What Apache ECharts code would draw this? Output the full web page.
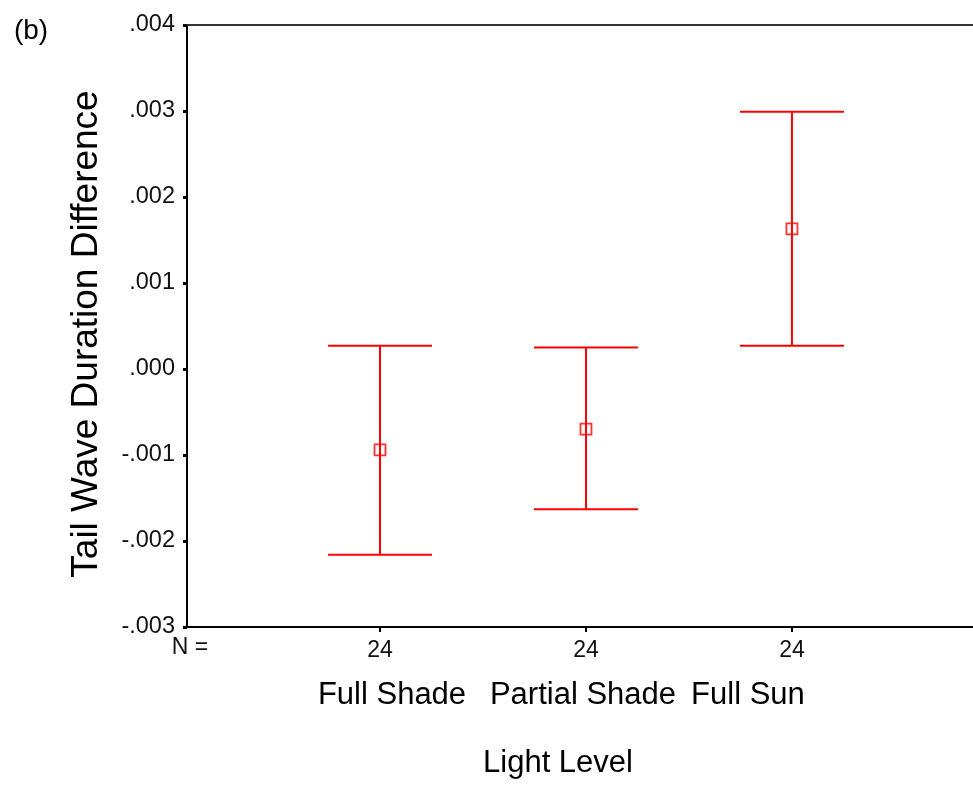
<!DOCTYPE html>
<html>
<head>
<meta charset="utf-8">
<script src="https://cdn.jsdelivr.net/npm/echarts@6/dist/echarts.min.js"></script>
<style>
html,body{margin:0;padding:0;background:#fff;}
#chart{width:973px;height:789px;}
</style>
</head>
<body>
<div id="chart"></div>
<script>
// ---- data ----
const categories = ['Full Shade', 'Partial Shade', 'Full Sun'];
const nValues = [24, 24, 24];
const means = [-0.00094, -0.00070, 0.00163];
const lowers = [-0.00216, -0.00163, 0.00027];
const uppers = [0.00027, 0.00025, 0.00299];
const yTicks = [-0.003, -0.002, -0.001, 0.000, 0.001, 0.002, 0.003, 0.004];

const FONT = '"Liberation Sans", Arial, sans-serif';
const RED = '#ff0000';
const positions = categories.map((c, i) => i + 1);

function fmtY(v) {
  const r = Math.round(v * 1000) / 1000;
  let s = Math.abs(r).toFixed(3).replace(/^0/, '');
  return (r < 0 ? '-' : '') + s;
}

const chart = echarts.init(document.getElementById('chart'), null, {renderer: 'canvas'});

const xMin = 0.063, xMax = 3.879;

const option = {
  animation: false,
  backgroundColor: '#fff',
  grid: {left: 187, top: 25, right: 0, bottom: 162},
  xAxis: [
    {
      type: 'value', position: 'bottom', min: xMin, max: xMax,
      splitLine: {show: false},
      axisLine: {show: true, onZero: false, lineStyle: {color: '#000', width: 2}},
      axisTick: {show: true, customValues: positions, length: 5, lineStyle: {color: '#000', width: 2}},
      axisLabel: {
        show: true, customValues: positions, margin: 12,
        fontFamily: FONT, fontSize: 23, color: '#111',
        formatter: function (v) { const i = Math.round(v) - 1; return String(nValues[i]); }
      }
    },
    {
      type: 'value', position: 'top', min: xMin, max: xMax,
      splitLine: {show: false},
      axisLine: {show: true, onZero: false, lineStyle: {color: '#333', width: 2}},
      axisTick: {show: false}, axisLabel: {show: false}
    }
  ],
  yAxis: {
    type: 'value', min: yTicks[0], max: yTicks[yTicks.length - 1], interval: 0.001,
    splitLine: {show: false},
    axisLine: {show: true, onZero: false, lineStyle: {color: '#000', width: 2}},
    axisTick: {show: true, length: 4, lineStyle: {color: '#000', width: 3}},
    axisLabel: {
      margin: 12, fontFamily: FONT, fontSize: 23.5, color: '#111',
      formatter: fmtY
    }
  },
  series: [
    {
      type: 'custom',
      xAxisIndex: 0,
      data: positions.map((p, i) => [p, lowers[i], uppers[i]]),
      renderItem: function (params, api) {
        const x = api.value(0);
        const lo = api.coord([x, api.value(1)]);
        const hi = api.coord([x, api.value(2)]);
        const half = 52;
        const style = {stroke: RED, lineWidth: 2, fill: null};
        return {
          type: 'group',
          children: [
            {type: 'line', shape: {x1: hi[0] - half, y1: hi[1], x2: hi[0] + half, y2: hi[1]}, style: style},
            {type: 'line', shape: {x1: hi[0], y1: hi[1], x2: lo[0], y2: lo[1]}, style: style},
            {type: 'line', shape: {x1: lo[0] - half, y1: lo[1], x2: lo[0] + half, y2: lo[1]}, style: style}
          ]
        };
      },
      z: 2
    },
    {
      type: 'scatter',
      xAxisIndex: 0,
      data: positions.map((p, i) => [p, means[i]]),
      symbol: 'rect',
      symbolSize: 11,
      itemStyle: {color: 'rgba(0,0,0,0)', borderColor: RED, borderWidth: 1.8},
      z: 3
    }
  ]
};
chart.setOption(option);

// Text elements placed relative to the axis
const labelOffsets = [12, -3, -44];
const graphics = [];
categories.forEach((c, i) => {
  const px = chart.convertToPixel({xAxisIndex: 0}, positions[i]);
  graphics.push({
    type: 'text', x: px + labelOffsets[i], y: 695,
    style: {text: c, font: '31px ' + FONT, fill: '#000', align: 'center', verticalAlign: 'middle'}
  });
});
graphics.push({
  type: 'text', x: 558, y: 763,
  style: {text: 'Light Level', font: '31px ' + FONT, fill: '#000', align: 'center', verticalAlign: 'middle'}
});
graphics.push({
  type: 'text', x: 87, y: 334, rotation: Math.PI / 2,
  style: {text: 'Tail Wave Duration Difference', font: '37px ' + FONT, fill: '#000', align: 'center', verticalAlign: 'middle'}
});
graphics.push({
  type: 'text', x: 190, y: 648,
  style: {text: 'N =', font: '23px ' + FONT, fill: '#111', align: 'center', verticalAlign: 'middle'}
});
graphics.push({
  type: 'text', x: 31, y: 31,
  style: {text: '(b)', font: '28px ' + FONT, fill: '#000', align: 'center', verticalAlign: 'middle'}
});
chart.setOption({graphic: graphics});
</script>
</body>
</html>
